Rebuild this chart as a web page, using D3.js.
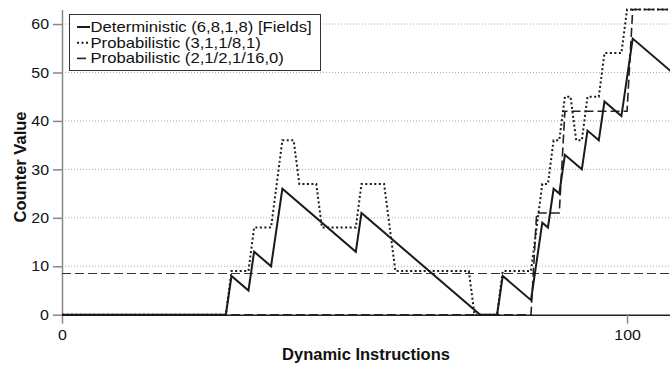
<!DOCTYPE html>
<html>
<head>
<meta charset="utf-8">
<script src="https://cdn.jsdelivr.net/npm/d3@7"></script>
<style>
  body { margin: 0; background: #fff; }
  svg { display: block; font-family: "Liberation Sans", Arial, Helvetica, sans-serif; }
</style>
</head>
<body>
<div id="chart"></div>
<script>
// --- Data ---
const detX = [0, 29, 30, 33, 34, 37, 39, 52, 53, 74, 77, 78, 83, 85, 86, 87, 88, 89, 92, 93, 95, 96, 99, 101, 108];
const detY = [0, 0, 8, 5, 13, 10, 26, 13, 21, 0, 0, 8, 3, 19, 18, 26, 25, 33, 30, 38, 36, 44, 41, 57, 50];

const probAX = [0, 29, 30, 33, 34, 37, 39, 41, 42, 45, 46, 52, 53, 57, 59, 72, 73, 77, 78, 83, 84, 85, 86, 87, 88, 89, 90, 91, 92, 93, 95, 96, 99, 100, 108];
const probAY = [0, 0, 9, 9, 18, 18, 36, 36, 27, 27, 18, 18, 27, 27, 9, 9, 0, 0, 9, 9, 18, 27, 27, 36, 36, 45, 45, 36, 36, 45, 45, 54, 54, 63, 63];

const probBX = [0, 83, 84, 88, 89, 100, 101, 108];
const probBY = [0, 0, 21, 21, 42, 42, 63, 63];

const thresholdValue = 8.5;

const seriesNames = ["Deterministic (6,8,1,8) [Fields]", "Probabilistic (3,1,1/8,1)", "Probabilistic (2,1/2,1/16,0)"];
const yTicks = [0, 10, 20, 30, 40, 50, 60];
const xTicks = [0, 100];

// --- Layout ---
const width = 670, height = 365;
const stretch = 1.1; // text in the reference is a bit wide for its height
const x = d3.scaleLinear().domain([0, 107.6]).range([62, 670]);
const y = d3.scaleLinear().domain([0, 63]).range([314.7, 9.5]);

const svg = d3.select("#chart").append("svg")
    .attr("width", width)
    .attr("height", height);

// gridlines
svg.append("g").selectAll("line")
    .data(yTicks.slice(1))
    .enter().append("line")
    .attr("x1", x(0)).attr("x2", 670)
    .attr("y1", d => y(d)).attr("y2", d => y(d))
    .attr("stroke", "#aaa")
    .attr("stroke-width", 1)
    .attr("stroke-dasharray", "1,2");

// axes
const yAxis = svg.append("g")
    .attr("transform", `translate(${x(0)},0)`)
    .call(d3.axisLeft(y).tickValues(yTicks).tickSize(9).tickSizeOuter(0).tickPadding(4));
yAxis.select(".domain").attr("stroke", "#888").attr("stroke-width", 1.5);
yAxis.selectAll(".tick line").attr("stroke", "#888").attr("stroke-width", 1.5);
yAxis.selectAll(".tick text")
    .attr("font-size", 14.5).attr("fill", "#111")
    .attr("font-family", "Liberation Sans, Arial, sans-serif")
    .attr("x", -13 / stretch)
    .attr("transform", `scale(${stretch},1)`);

const xAxis = svg.append("g")
    .attr("transform", `translate(0,${y(0)})`)
    .call(d3.axisBottom(x).tickValues(xTicks).tickSize(9).tickSizeOuter(0).tickPadding(6));
xAxis.select(".domain").attr("stroke", "#222").attr("stroke-width", 1.5);
xAxis.selectAll(".tick line").attr("stroke", "#888").attr("stroke-width", 1.5);
xAxis.selectAll(".tick text")
    .attr("font-size", 14.5).attr("fill", "#111")
    .attr("font-family", "Liberation Sans, Arial, sans-serif")
    .attr("transform", `scale(${stretch},1)`);

// axis titles
svg.append("text")
    .attr("x", 366).attr("y", 360)
    .attr("text-anchor", "middle")
    .attr("font-size", 16.5).attr("font-weight", "bold").attr("fill", "#111")
    .text("Dynamic Instructions");

svg.append("text")
    .attr("transform", "translate(26,167) rotate(-90)")
    .attr("text-anchor", "middle")
    .attr("font-size", 16.5).attr("font-weight", "bold").attr("fill", "#111")
    .text("Counter Value");

// --- Series ---
const styles = [
    { dash: null, width: 2, color: "#1a1a1a" },
    { dash: "2,2.5", width: 2, color: "#1a1a1a" },
    { dash: "9,4", width: 1.6, color: "#222" }
];

const line = d3.line().x(d => x(d[0])).y(d => y(d[1]));
const series = [
    d3.zip(detX, detY),
    d3.zip(probAX, probAY),
    d3.zip(probBX, probBY)
];

// threshold line (same dashed style)
svg.append("line")
    .attr("x1", x(0)).attr("x2", 670)
    .attr("y1", y(thresholdValue)).attr("y2", y(thresholdValue))
    .attr("stroke", "#333")
    .attr("stroke-width", 1.2)
    .attr("stroke-dasharray", "9,4");

// draw dashed first, then dotted, then solid on top
[2, 1, 0].forEach(i => {
    svg.append("path")
        .datum(series[i])
        .attr("d", line)
        .attr("fill", "none")
        .attr("stroke", styles[i].color)
        .attr("stroke-width", styles[i].width)
        .attr("stroke-dasharray", styles[i].dash)
        .attr("stroke-linejoin", "miter");
});

// --- Legend ---
const legend = svg.append("g");
legend.append("rect")
    .attr("x", 69.5).attr("y", 14.5)
    .attr("width", 251).attr("height", 56)
    .attr("fill", "#fff")
    .attr("stroke", "#333")
    .attr("stroke-width", 1);

const rows = legend.selectAll("g.row")
    .data(seriesNames)
    .enter().append("g")
    .attr("class", "row")
    .attr("transform", (d, i) => `translate(0,${32 + i * 15.7})`);

rows.append("line")
    .attr("x1", 77).attr("x2", 90)
    .attr("y1", -5).attr("y2", -5)
    .attr("stroke", (d, i) => styles[i].color)
    .attr("stroke-width", (d, i) => styles[i].width)
    .attr("stroke-dasharray", (d, i) => styles[i].dash);

const legendStretch = 1.19;
rows.append("text")
    .attr("x", 90.5 / legendStretch).attr("y", 0)
    .attr("transform", `scale(${legendStretch},1)`)
    .attr("font-size", 14).attr("fill", "#111")
    .text(d => d);
</script>
</body>
</html>
